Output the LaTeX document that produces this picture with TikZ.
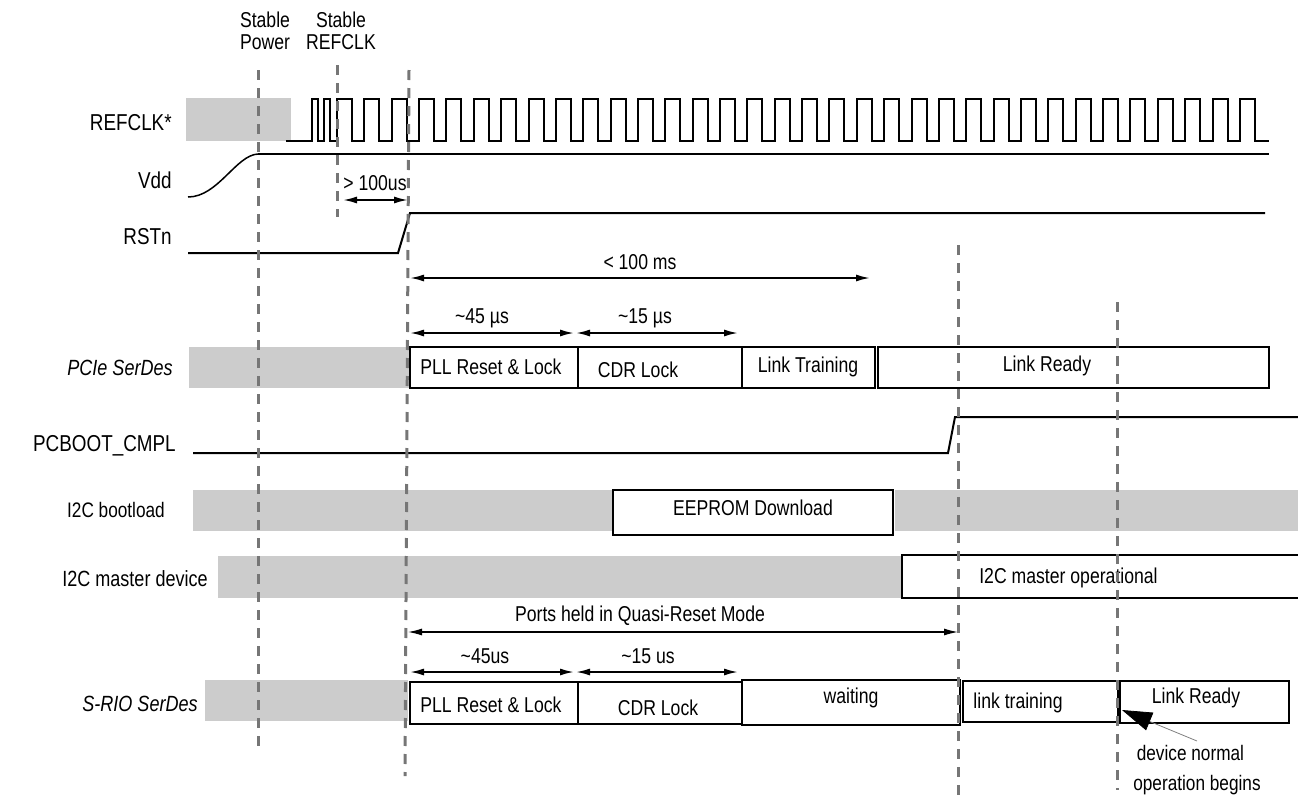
\documentclass[tikz,border=0pt]{standalone}
\usepackage{fontspec}
\setmainfont[FakeStretch=0.82]{Liberation Sans}
\usetikzlibrary{arrows.meta}

\definecolor{idlegray}{RGB}{204,204,204}
\definecolor{markgray}{RGB}{118,118,118}

\begin{document}
\begin{tikzpicture}[x=1pt, y=-1pt, line width=2pt,
    tmark/.style={markgray, line width=3pt, dash pattern=on 10pt off 8pt},
    idle/.style={fill=idlegray},
    phase/.style={draw=black, line width=2pt, fill=white},
    dimarrow/.style={{Latex[length=14pt,width=7pt]}-{Latex[length=14pt,width=7pt]}, line width=1.8pt},
    signame/.style={font=\fontsize{23}{27}\selectfont},
    txt/.style={font=\fontsize{21.5}{22}\selectfont}]
    \useasboundingbox (0,0) rectangle (1298,801);

    % Events
    \node[txt, align=center] (pwr) at (265,31) {Stable\\Power};
    \node[txt, align=center] (clk) at (341,31) {Stable\\REFCLK};

    % REFCLK*
    \node[signame, anchor=east] (refclk) at (176,123) {REFCLK*};
    \fill[idle] (186,98) rectangle (291,141);
    \draw (286,141) -- (312,141) -- (312,99) -- (318,99) -- (318,141) -- (324,141) -- (324,99) -- (330,99) -- (330,141) -- (337,141)
        \foreach \k in {0,...,33} { -- ++(0,-42) -- ++(15,0) -- ++(0,42) -- ++(12.36,0) } -- (1269,141);

    % Vdd
    \node[signame, anchor=east] (vdd) at (176,180) {Vdd};
    \draw[line width=1.5pt] (188,197) .. controls (218,197) and (236,155) .. (258,154);
    \draw (258,154) -- (1269,154);
    \node[txt] (gt100) at (375,183) {> 100us};
    \draw[dimarrow] (343,200) -- (408,200);

    % RSTn
    \node[signame, anchor=east] (rstn) at (176,237) {RSTn};
    \draw (188,253) -- (398,253) -- (410,213) -- (1265,213);

    % timings PCIe
    \node[txt] (lt100) at (640,262) {< 100 ms};
    \draw[dimarrow] (410,278) -- (870,278);
    \node[txt] (pcie45) at (482,318) {\textasciitilde 45 µs};
    \draw[dimarrow] (410,333) -- (574,333);
    \node[txt] (pcie15) at (645,318) {\textasciitilde 15 µs};
    \draw[dimarrow] (576,333) -- (738,333);

    % PCIe SerDes
    \node[signame, anchor=east, font=\fontsize{22}{26}\selectfont\itshape] (pcie) at (177,368) {PCIe SerDes};
    \fill[idle] (189,347) rectangle (410,388);
    \draw[phase] (410,347) rectangle (578,388);
    \draw[phase] (578,347) rectangle (742,388);
    \draw[phase] (742,347) rectangle (875,388);
    \draw[phase] (878,347) rectangle (1269,388);
    \node[txt, anchor=west] (pciepll) at (416,367) {PLL Reset \& Lock};
    \node[txt] (pciecdr) at (638,370) {CDR Lock};
    \node[txt] (pcietrain) at (808,367) {Link Training};
    \node[txt] (pcieready) at (1047,366) {Link Ready};

    % PCBOOT_CMPL
    \node[signame, anchor=east] (pcboot) at (180,446) {PCBOOT\_CMPL};
    \draw (193,453) -- (948,453) -- (955,417) -- (1298,417);

    % I2C bootload
    \node[txt, font=\fontsize{21}{22}\selectfont] (boot) at (116,510) {I2C bootload};
    \fill[idle] (193,490) rectangle (613,531);
    \draw[phase] (613,490) rectangle (893,535);
    \node[txt] (eeprom) at (753,508) {EEPROM Download};
    \fill[idle] (895,490) rectangle (1298,531);

    % I2C master device
    \node[txt, font=\fontsize{22}{22}\selectfont] (master) at (135,579) {I2C master device};
    \fill[idle] (218,556) rectangle (902,598);
    \draw (1298,555) -- (902,555) -- (902,598) -- (1298,598);
    \node[txt, anchor=west] (masterop) at (975,578) {I2C master operational};

    % Quasi-Reset
    \node[txt] (quasi) at (640,616) {Ports held in Quasi-Reset Mode};
    \draw[{Latex[length=14pt,width=7pt]}-{Latex[length=14pt,width=7pt]}, line width=1.2pt] (408,632) -- (958,632);

    % timings S-RIO
    \node[txt] (srio45) at (485,656) {\textasciitilde 45us};
    \draw[dimarrow] (410,672) -- (574,672);
    \node[txt] (srio15) at (648,656) {\textasciitilde 15 us};
    \draw[dimarrow] (576,672) -- (738,672);

    % S-RIO SerDes
    \node[signame, font=\fontsize{22}{26}\selectfont\itshape] (srio) at (140,704) {S-RIO SerDes};
    \fill[idle] (205,680) rectangle (408,721);
    \draw[phase] (410,682) rectangle (578,724);
    \draw[phase] (578,682) rectangle (742,724);
    \draw[phase] (742,680) rectangle (960,725);
    \draw[phase] (963,681) rectangle (1118,722);
    \draw[phase] (1120,681) rectangle (1289,723);
    \node[txt, anchor=west] (sriopll) at (416,705) {PLL Reset \& Lock};
    \node[txt] (sriocdr) at (658,708) {CDR Lock};
    \node[txt] (sriowait) at (851,698) {waiting};
    \node[txt] (sriotrain) at (1018,703) {link training};
    \node[txt] (srioready) at (1196,698) {Link Ready};

    % normal operation
    \node[txt, align=left, anchor=north west, font=\fontsize{21}{30}\selectfont] (normal) at (1129,741) {\,device normal\\operation begins};
    \coordinate (begin) at (1122,710);
    \draw[gray, line width=0.8pt, -{Triangle[length=30pt,width=19pt,black]}] (normal.north) -- (begin);

    % time markers
    \draw[tmark] (258,70) -- (258,752);
    \draw[tmark] (337,65) -- (337,217);
    \draw[tmark] (409,70) -- (405,776);
    \draw[tmark] (958,245) -- (958,801);
    \draw[tmark] (1117,302) -- (1117,790);
\end{tikzpicture}
\end{document}
